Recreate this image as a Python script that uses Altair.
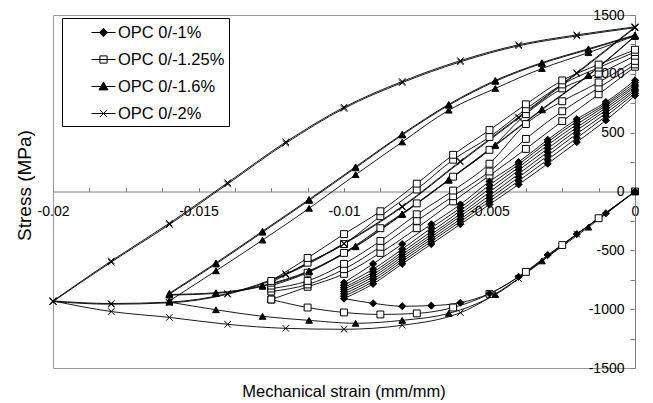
import altair as alt
import pandas as pd

SERIES = ["OPC 0/-1%", "OPC 0/-1.25%", "OPC 0/-1.6%", "OPC 0/-2%"]

# strain grids (marker positions) for each test
STRAIN_A = [0.0, -0.001, -0.002, -0.003, -0.004, -0.005, -0.006, -0.007, -0.008, -0.009, -0.010]
STRAIN_B = [0.0, -0.00125, -0.0025, -0.00375, -0.005, -0.00625, -0.0075, -0.00875, -0.010, -0.01125, -0.0125]
STRAIN_C = [0.0, -0.0016, -0.0032, -0.0048, -0.0064, -0.008, -0.0096, -0.0112, -0.0128, -0.0144, -0.016]
STRAIN_D = [0.0, -0.002, -0.004, -0.006, -0.008, -0.010, -0.012, -0.014, -0.016, -0.018, -0.020]

# OPC 0/-1%
A_LOAD = [0, -185, -362, -540, -725, -867, -945, -970, -975, -950, -910]
A_CYCLES = [
    [815, 605, 420, 236, 60, -110, -278, -447, -615, -785, -910],
    [835, 640, 455, 270, 90, -85, -255, -425, -595, -765, -890],
    [855, 665, 490, 305, 120, -60, -235, -405, -575, -745, -870],
    [870, 690, 520, 335, 150, -35, -210, -385, -555, -725, -850],
    [890, 710, 545, 365, 180, -5, -190, -365, -535, -705, -830],
    [905, 730, 570, 395, 205, 25, -165, -340, -515, -685, -815],
    [925, 745, 595, 420, 230, 55, -140, -310, -490, -660, -795],
    [945, 760, 615, 440, 250, 85, -110, -278, -447, -615, -775],
]

# OPC 0/-1.25%
B_LOAD = [0, -227, -455, -683, -870, -986, -1036, -1045, -1028, -986, -918]
B_CYCLES = [
    [1060, 826, 598, 362, 135, -84, -312, -522, -700, -810, -918],
    [1080, 880, 682, 447, 170, -40, -250, -470, -660, -790, -850],
    [1110, 927, 767, 573, 236, 8, -194, -420, -615, -760, -825],
    [1154, 1002, 876, 657, 354, 126, -101, -312, -522, -690, -800],
    [1185, 1053, 910, 700, 463, 270, 17, -210, -447, -605, -775],
    [1205, 1079, 944, 741, 522, 312, 67, -168, -362, -565, -760],
]

# OPC 0/-1.6%
C_LOAD = [0, -303, -590, -876, -1036, -1095, -1120, -1095, -1061, -1005, -940]
C_CYCLES = [
    [1323, 1180, 1045, 876, 691, 421, 143, -143, -413, -674, -930],
    [1323, 990, 700, 396, 101, -190, -463, -674, -800, -860, -875],
    [1318, 985, 694, 390, 95, -196, -470, -680, -806, -866, -880],
    [1330, 1213, 1095, 944, 741, 488, 210, -67, -337, -607, -865],
    [1325, 1206, 1088, 936, 733, 480, 201, -76, -346, -616, -872],
]

# OPC 0/-2%
D_LOAD = [0, -362, -740, -1030, -1137, -1171, -1163, -1129, -1070, -1020, -930]
D_CYCLES = [
    [1399, 1331, 1247, 1112, 935, 716, 421, 75, -270, -590, -930],
    [1392, 1322, 1238, 1102, 925, 706, 410, 64, -281, -600, -935],
    [1399, 1010, 632, 258, -126, -440, -700, -867, -940, -952, -930],
    [1392, 1002, 624, 250, -133, -447, -707, -873, -946, -958, -935],
]

X_LABELS = [-0.02, -0.015, -0.01, -0.005, 0.0]
X_TICKS = [-0.02, -0.01875, -0.0175, -0.01625, -0.015, -0.01375, -0.0125, -0.01125,
           -0.01, -0.00875, -0.0075, -0.00625, -0.005, -0.00375, -0.0025, -0.00125, 0.0]
Y_LABELS = [-1500, -1000, -500, 0, 500, 1000, 1500]
Y_TICKS = [-1500, -1250, -1000, -750, -500, -250, 0, 250, 500, 750, 1000, 1250, 1500]

MARKERS = ["diamond", "square", "triangle-up", "M-1,-1L1,1M-1,1L1,-1"]
MARKER_FILL = ["black", "white", "black", "transparent"]
MARKER_SIZE = [50, 42, 81, 50]
LEGEND_SYMBOLS = [
    "M-1.2,0H1.2M0,-0.42L0.42,0L0,0.42L-0.42,0Z",
    "M-1.2,0H1.2M-0.36,-0.36H0.36V0.36H-0.36Z",
    "M-1.2,0H1.2M0,-0.46L0.45,0.34H-0.45Z",
    "M-1.2,0H1.2M-0.36,-0.36L0.36,0.36M-0.36,0.36L0.36,-0.36",
]

rows = []
groups = [
    (SERIES[0], STRAIN_A, [A_LOAD] + A_CYCLES),
    (SERIES[1], STRAIN_B, [B_LOAD] + B_CYCLES),
    (SERIES[2], STRAIN_C, [C_LOAD] + C_CYCLES),
    (SERIES[3], STRAIN_D, [D_LOAD] + D_CYCLES),
]
for name, grid, branches in groups:
    for bi, br in enumerate(branches):
        for s, v in zip(grid, br):
            rows.append({"series": name, "key": f"{name}-{bi}", "strain": s, "stress": v})
df = pd.DataFrame(rows)
# draw squares first so the other markers sit on top of them
order_map = {SERIES[1]: 0, SERIES[0]: 1, SERIES[2]: 2, SERIES[3]: 3}
df_pts = df.assign(o=df["series"].map(order_map)).sort_values("o", kind="stable").drop(columns="o")

FONT = "Liberation Sans"
W, H = 582, 353
xscale = alt.Scale(domain=[-0.02, 0.0], nice=False, zero=False)
yscale = alt.Scale(domain=[-1500, 1500], nice=False, zero=False)

lines = alt.Chart(df).mark_line(color="black", strokeWidth=0.9, interpolate="monotone").encode(
    x=alt.X("strain:Q", scale=xscale, axis=alt.Axis(
        orient="bottom", offset=-H / 2, values=X_LABELS, ticks=False, tickSize=0,
        domain=True, domainColor="#808080", labelPadding=13, labelFlush=False,
        labelOverlap=False, labelExpr="'' + datum.value", grid=False, title=None,
        labelFont=FONT, labelFontSize=14, labelColor="black")),
    y=alt.Y("stress:Q", scale=yscale, axis=alt.Axis(
        orient="left", offset=-W, values=Y_LABELS, ticks=False, tickSize=0,
        domain=True, domainColor="#808080", labelPadding=11, labelFlush=False,
        labelOverlap=False, labelExpr="'' + datum.value", grid=False, title=None,
        labelFont=FONT, labelFontSize=14, labelColor="black")),
    detail="key:N",
)

points = alt.Chart(df_pts).mark_point(filled=True, stroke="black", strokeWidth=1, opacity=1).encode(
    x=alt.X("strain:Q", scale=xscale, axis=alt.Axis(
        orient="top", offset=-H / 2, values=X_TICKS, labels=False, domain=False,
        ticks=True, tickSize=4, tickColor="#808080", grid=False, title=None)),
    y=alt.Y("stress:Q", scale=yscale, axis=alt.Axis(
        orient="left", offset=-W, values=Y_TICKS, labels=False, domain=False,
        ticks=True, tickSize=5, tickColor="#808080", grid=False, title=None)),
    shape=alt.Shape("series:N", scale=alt.Scale(domain=SERIES, range=MARKERS), legend=None),
    fill=alt.Fill("series:N", scale=alt.Scale(domain=SERIES, range=MARKER_FILL), legend=None),
    size=alt.Size("series:N", scale=alt.Scale(domain=SERIES, range=MARKER_SIZE), legend=None),
)

leg = alt.Legend(
    title=None, orient="none", legendX=9, legendY=3, padding=4,
    strokeColor="black", fillColor="white", symbolSize=400, symbolOffset=27,
    labelOffset=4, rowPadding=8, labelFont=FONT, labelFontSize=16.5, labelColor="black",
    symbolStrokeColor="black", symbolStrokeWidth=1, symbolOpacity=1,
    labelExpr="datum.label + '\u00a0\u00a0\u00a0\u00a0\u00a0\u00a0\u00a0\u00a0\u00a0'",
)
df_leg = pd.DataFrame({"series": SERIES, "strain": [0.0] * 4, "stress": [0.0] * 4})
legend_layer = alt.Chart(df_leg).transform_filter("false").mark_point(
    filled=True, strokeWidth=1).encode(
    x=alt.X("strain:Q", scale=xscale, axis=None),
    y=alt.Y("stress:Q", scale=yscale, axis=alt.Axis(
        orient="left", labels=False, ticks=False, domain=False, grid=False,
        title="Stress (MPa)", titleFont=FONT, titleFontSize=19, titleFontWeight="normal",
        titleColor="black", titleX=-19, titleY=170, titleBaseline="bottom", titleAngle=270)),
    shape=alt.Shape("series:N", scale=alt.Scale(domain=SERIES, range=LEGEND_SYMBOLS), legend=leg),
    fill=alt.Fill("series:N", scale=alt.Scale(domain=SERIES, range=MARKER_FILL), legend=leg),
    stroke=alt.Stroke("series:N", scale=alt.Scale(domain=SERIES, range=["black"] * 4), legend=leg),
)

chart = alt.layer(lines, points, legend_layer).resolve_axis(
    x="independent", y="independent"
).resolve_scale(
    shape="independent", fill="independent", size="independent", stroke="independent"
).resolve_legend(
    shape="independent", fill="independent", size="independent", stroke="independent"
).properties(
    width=W, height=H,
    autosize=alt.AutoSizeParams(type="none"),
    padding={"left": 45, "top": 7, "right": 10, "bottom": 32},
    title=alt.TitleParams("Mechanical strain (mm/mm)", orient="bottom", anchor="middle",
                          font=FONT, fontSize=16.5, fontWeight="normal", color="black", offset=9),
).configure_view(stroke="#999999", strokeWidth=1)

chart.save("out.html", embed_options={"renderer": "svg", "actions": False})
